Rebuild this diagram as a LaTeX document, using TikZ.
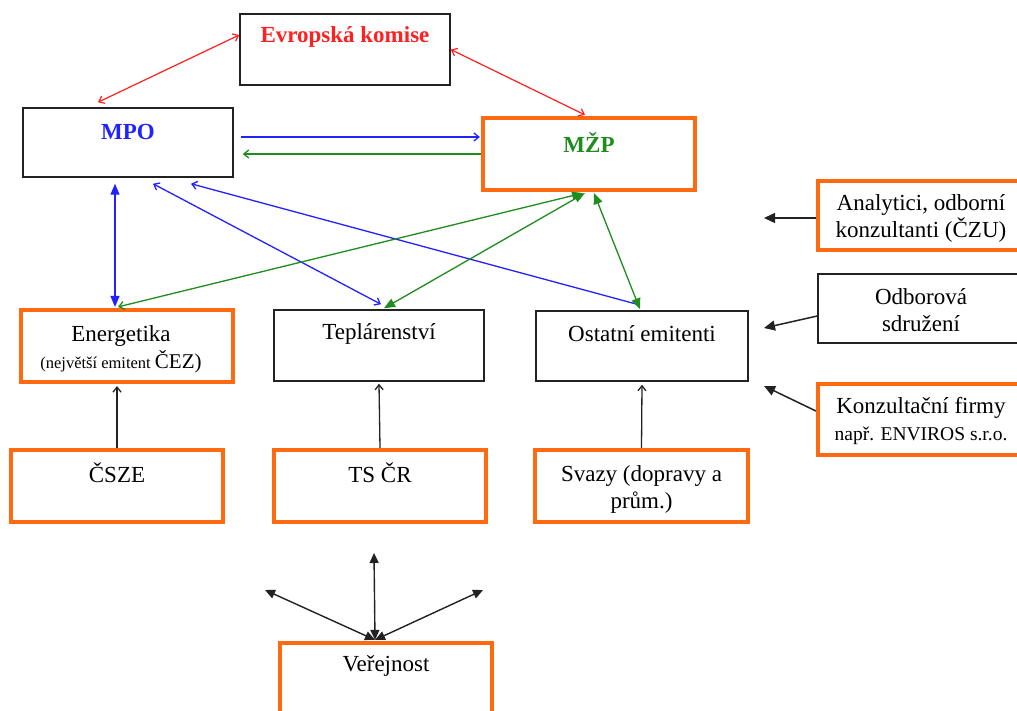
\documentclass[tikz,border=0pt]{standalone}
\usepackage{fontspec}
\setmainfont{Liberation Serif}
\usetikzlibrary{arrows.meta}
\definecolor{boxorange}{HTML}{FF6A10}
\definecolor{ecred}{HTML}{FF2020}
\definecolor{mpoblue}{HTML}{2222FF}
\definecolor{mzpgreen}{HTML}{1E8C1E}
\definecolor{lineblack}{HTML}{222222}
\tikzset{
  bbox/.style={draw=lineblack, line width=1.5pt, inner sep=0pt},
  obox/.style={draw=boxorange, line width=4.2pt, inner sep=0pt},
  txt/.style={inner sep=0pt, align=center, font=\fontsize{23}{27}\selectfont, text=black},
  btxt/.style={txt, font=\fontsize{23}{27}\selectfont\bfseries},
  redline/.style={draw=ecred, line width=1.2pt, {Straight Barb[length=5pt,width=8pt]}-{Straight Barb[length=5pt,width=8pt]}},
  blueline/.style={draw=mpoblue, line width=1.3pt},
  greenline/.style={draw=mzpgreen, line width=1.3pt},
  blackarrow/.style={draw=lineblack, line width=1.5pt, -{Triangle[length=11pt,width=10pt]}},
  thinarrow/.style={draw=lineblack, line width=1.3pt, -{Straight Barb[length=5pt,width=8pt]}},
  pubarrow/.style={draw=lineblack, line width=1.4pt, {Triangle[length=10pt,width=9pt]}-{Triangle[length=10pt,width=9pt]}},
}
\begin{document}
\begin{tikzpicture}[x=1pt,y=-1pt]
\clip (0,0) rectangle (1017,711);
\fill[white] (0,0) rectangle (1017,711);
% boxes
\node[bbox, minimum width=210pt, minimum height=71pt] (ek) at (345,49.5) {};
\node[bbox, minimum width=210pt, minimum height=69pt] (mpo) at (128,142.5) {};
\node[obox, minimum width=212pt, minimum height=72pt] (mzp) at (589,154) {};
\node[obox, minimum width=207pt, minimum height=69pt] (ana) at (921.5,215.5) {};
\node[bbox, minimum width=207pt, minimum height=69pt] (odb) at (921.5,308.5) {};
\node[obox, minimum width=207pt, minimum height=71pt] (kon) at (921.5,419.5) {};
\node[obox, minimum width=212pt, minimum height=72pt] (ene) at (127,346) {};
\node[bbox, minimum width=210pt, minimum height=71pt] (tep) at (379,345.5) {};
\node[bbox, minimum width=212pt, minimum height=70pt] (ost) at (642,346) {};
\node[obox, minimum width=212pt, minimum height=72pt] (csze) at (117,486) {};
\node[obox, minimum width=212pt, minimum height=72pt] (tscr) at (380,486) {};
\node[obox, minimum width=213pt, minimum height=72pt] (svz) at (641.5,486) {};
\node[obox, minimum width=212pt, minimum height=72pt] (ver) at (386,679) {};
% texts
\node[btxt, text=ecred] (ek-t) at (345,37) {Evropská komise};
\node[btxt, text=mpoblue] (mpo-t) at (128,132) {MPO};
\node[btxt, text=mzpgreen] (mzp-t) at (589,143) {MŽP};
\node[txt] (ana-t) at (921,218) {Analytici, odborní\\konzultanti (ČZU)};
\node[txt] (odb-t) at (921,310) {Odborová\\sdružení};
\node[txt] (kon-t) at (921,421) {Konzultační firmy\\{\fontsize{19.5}{27}\selectfont např. ENVIROS s.r.o.}};
\node[txt] (ene-t) at (121,349) {Energetika\\{\fontsize{16.5}{27}\selectfont(největší emitent \fontsize{21}{27}\selectfont ČEZ)}};
\node[txt] (tep-t) at (379,334) {Teplárenství};
\node[txt] (ost-t) at (642,334) {Ostatní emitenti};
\node[txt] (csze-t) at (117,473) {ČSZE};
\node[txt] (tscr-t) at (380,473) {TS ČR};
\node[txt] (svz-t) at (641.5,489) {Svazy (dopravy a\\prům.)};
\node[txt] (ver-t) at (386,666) {Veřejnost};
% red
\draw[redline] ([yshift=14.5pt]ek.west) -- ([xshift=-30pt,yshift=5pt]mpo.north);
\draw[redline] (ek.east) -- ([xshift=-4pt,yshift=1pt]mzp.north);
% mpo <-> mzp
\draw[blueline, -{Straight Barb[length=5pt,width=8pt]}] ([xshift=7pt,yshift=5.5pt]mpo.east) -- ([xshift=-1pt,yshift=17pt]mzp.west);
\draw[greenline, -{Straight Barb[length=5pt,width=8pt]}] (mzp.west) -- ([xshift=9pt,yshift=-11.5pt]mpo.east);
% blue from mpo
\draw[blueline, {Triangle[length=11pt,width=9pt]}-{Triangle[length=11pt,width=9pt]}] ([xshift=-13pt,yshift=-6pt]mpo.south) -- ([xshift=-12pt,yshift=1pt]ene.north);
\draw[blueline, {Straight Barb[length=5pt,width=8pt]}-{Straight Barb[length=5pt,width=8pt]}] ([xshift=25pt,yshift=-6pt]mpo.south) -- ([xshift=2pt,yshift=5pt]tep.north);
\draw[blueline, {Straight Barb[length=5pt,width=8pt]}-] ([xshift=63pt,yshift=-6pt]mpo.south) -- ([xshift=-5pt,yshift=6pt]ost.north);
% green from mzp
\draw[greenline, {Triangle[length=11pt,width=8pt]}-{Straight Barb[length=5pt,width=8pt]}] ([xshift=-6pt,yshift=-1pt]mzp.south) -- ([xshift=-9pt,yshift=1pt]ene.north);
\draw[greenline, {Triangle[length=11pt,width=8pt]}-{Triangle[length=11pt,width=9pt]}] ([xshift=-4pt,yshift=-1pt]mzp.south) -- ([xshift=5pt,yshift=1pt]tep.north);
\draw[greenline, {Triangle[length=11pt,width=9pt]}-{Triangle[length=11pt,width=9pt]}] ([xshift=5pt,yshift=-1pt]mzp.south) -- ([xshift=-2pt,yshift=1pt]ost.north);
% right side arrows
\coordinate (a1) at (764,218);
\coordinate (a2) at (764,328);
\coordinate (a3) at (764,386);
\draw[blackarrow] ([yshift=-2.5pt]ana.west) -- (a1);
\draw[blackarrow] ([yshift=-7.5pt]odb.west) -- (a2);
\draw[blackarrow] ([yshift=8.5pt]kon.west) -- (a3);
% from associations
\draw[thinarrow] (csze.north) -- ([xshift=-10pt,yshift=-2pt]ene.south);
\draw[thinarrow] (tscr.north) -- ([yshift=-2pt]tep.south);
\draw[thinarrow] (svz.north) -- ([yshift=-3pt]ost.south);
% public
\coordinate (v1) at (374,553);
\coordinate (v2) at (265,590);
\coordinate (v3) at (483,590);
\draw[pubarrow] ([xshift=-11pt,yshift=1pt]ver.north) -- (v1);
\draw[pubarrow] ([xshift=-11pt,yshift=1pt]ver.north) -- (v2);
\draw[pubarrow] ([xshift=-11pt,yshift=1pt]ver.north) -- (v3);
\end{tikzpicture}
\end{document}
